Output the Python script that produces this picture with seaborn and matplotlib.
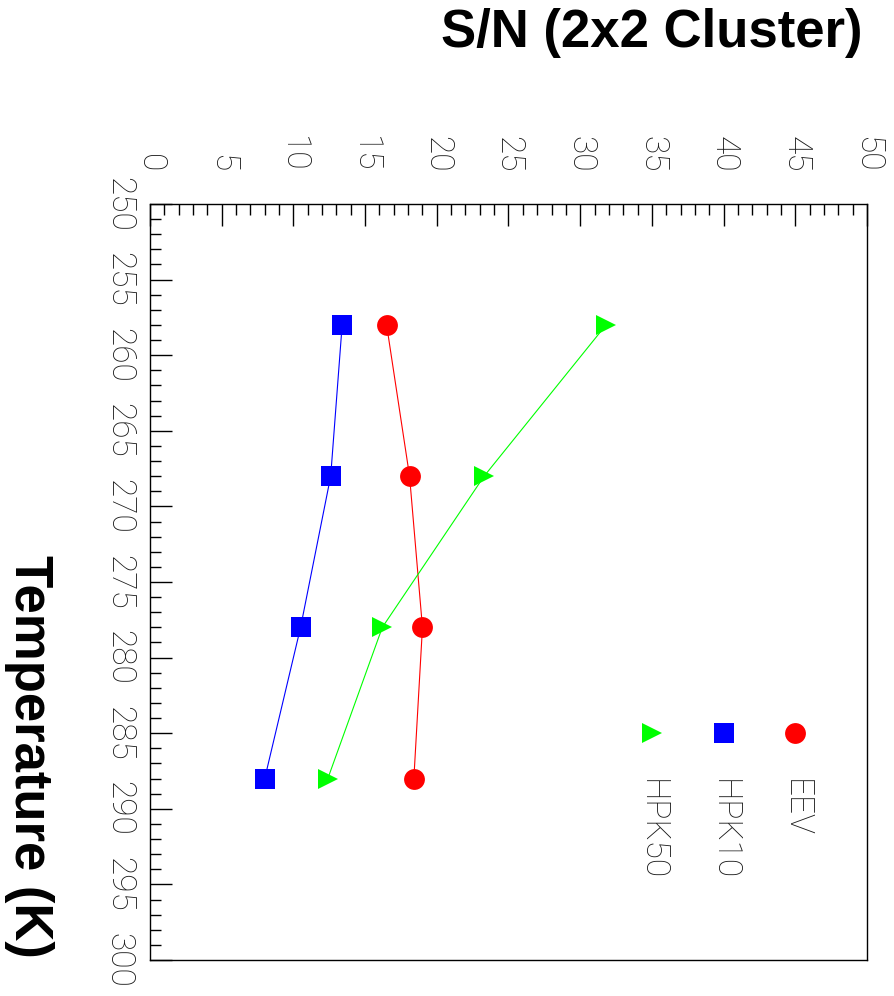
import pandas as pd
import matplotlib.pyplot as plt
import seaborn as sns
from matplotlib.ticker import MultipleLocator

# S/N values, one list per detector
temperature = [258, 268, 278, 288]
sn_eev = [16.5, 18.1, 19.0, 18.4]
sn_hpk10 = [13.4, 12.6, 10.5, 8.0]
sn_hpk50 = [31.8, 23.3, 16.2, 12.4]

detectors = ['EEV', 'HPK10', 'HPK50']
colors = {'EEV': '#ff0000', 'HPK10': '#0000ff', 'HPK50': '#00ff00'}
markers = {'EEV': 'o', 'HPK10': 's', 'HPK50': '>'}

# legend entries sit inside the frame (S/N position, temperature row)
legend_sn = [45, 40, 35]
legend_marker_t = 285
legend_text_t = 288

df = pd.DataFrame({
    'temperature': temperature * 3,
    'sn': sn_eev + sn_hpk10 + sn_hpk50,
    'detector': [d for d in detectors for _ in temperature],
})

sns.set_theme(style="white")
plt.rcParams['font.family'] = ['Liberation Sans', 'DejaVu Sans']

fig = plt.figure(figsize=(8.95, 9.96), dpi=100)
ax = fig.add_axes([150 / 895, 36 / 996, 717 / 895, 756 / 996])

# the whole plot is drawn turned a quarter clockwise:
# S/N runs left to right, temperature runs top to bottom
sns.lineplot(data=df, x='sn', y='temperature', hue='detector', style='detector',
             palette=colors, markers=markers, dashes=False, sort=False,
             markersize=15, markeredgewidth=0, linewidth=0.8, legend=False, ax=ax)

ax.set_xlim(0, 50)
ax.set_ylim(300, 250)
ax.set_xlabel('')
ax.set_ylabel('')

ax.xaxis.tick_top()
ax.xaxis.set_major_locator(MultipleLocator(5))
ax.xaxis.set_minor_locator(MultipleLocator(1))
ax.yaxis.set_major_locator(MultipleLocator(5))
ax.yaxis.set_minor_locator(MultipleLocator(1))
ax.tick_params(which='both', direction='in', color='black', width=1.0,
               top=True, bottom=False, left=True, right=False)
ax.tick_params(which='major', length=16)
ax.tick_params(which='minor', length=8)
ax.tick_params(axis='x', pad=23)
ax.tick_params(axis='y', pad=11)

for spine in ax.spines.values():
    spine.set_color('black')
    spine.set_linewidth(1.0)

tick_font = dict(family=['Roboto', 'DejaVu Sans'], weight='light', size=24)
for lab in ax.get_xticklabels():
    lab.set_rotation(-90)
    lab.set_ha('center')
    lab.set_va('bottom')
    lab.set_fontproperties(tick_font)
    lab.set_color('#1a1a1a')
for lab in ax.get_yticklabels():
    lab.set_rotation(-90)
    lab.set_ha('right')
    lab.set_va('center')
    lab.set_fontproperties(tick_font)
    lab.set_color('#1a1a1a')

# hand-made legend, turned like the rest of the plot
for name, pos in zip(detectors, legend_sn):
    ax.plot([pos], [legend_marker_t], marker=markers[name], color=colors[name],
            markersize=15, markeredgewidth=0, linestyle='none')
    ax.text(pos, legend_text_t, name, rotation=-90, ha='center', va='top',
            color='#1a1a1a', **tick_font)

# axis titles sit at the far ends of the axes
fig.text(863 / 895, 1 - 8 / 996, 'S/N (2x2 Cluster)', ha='right', va='top',
         fontsize=38, fontweight='bold', color='black')
fig.text(4 / 895, 38 / 996, 'Temperature (K)', rotation=-90, ha='left', va='bottom',
         fontsize=38, fontweight='bold', color='black')

fig.savefig('out.png', dpi=100)
plt.close(fig)
